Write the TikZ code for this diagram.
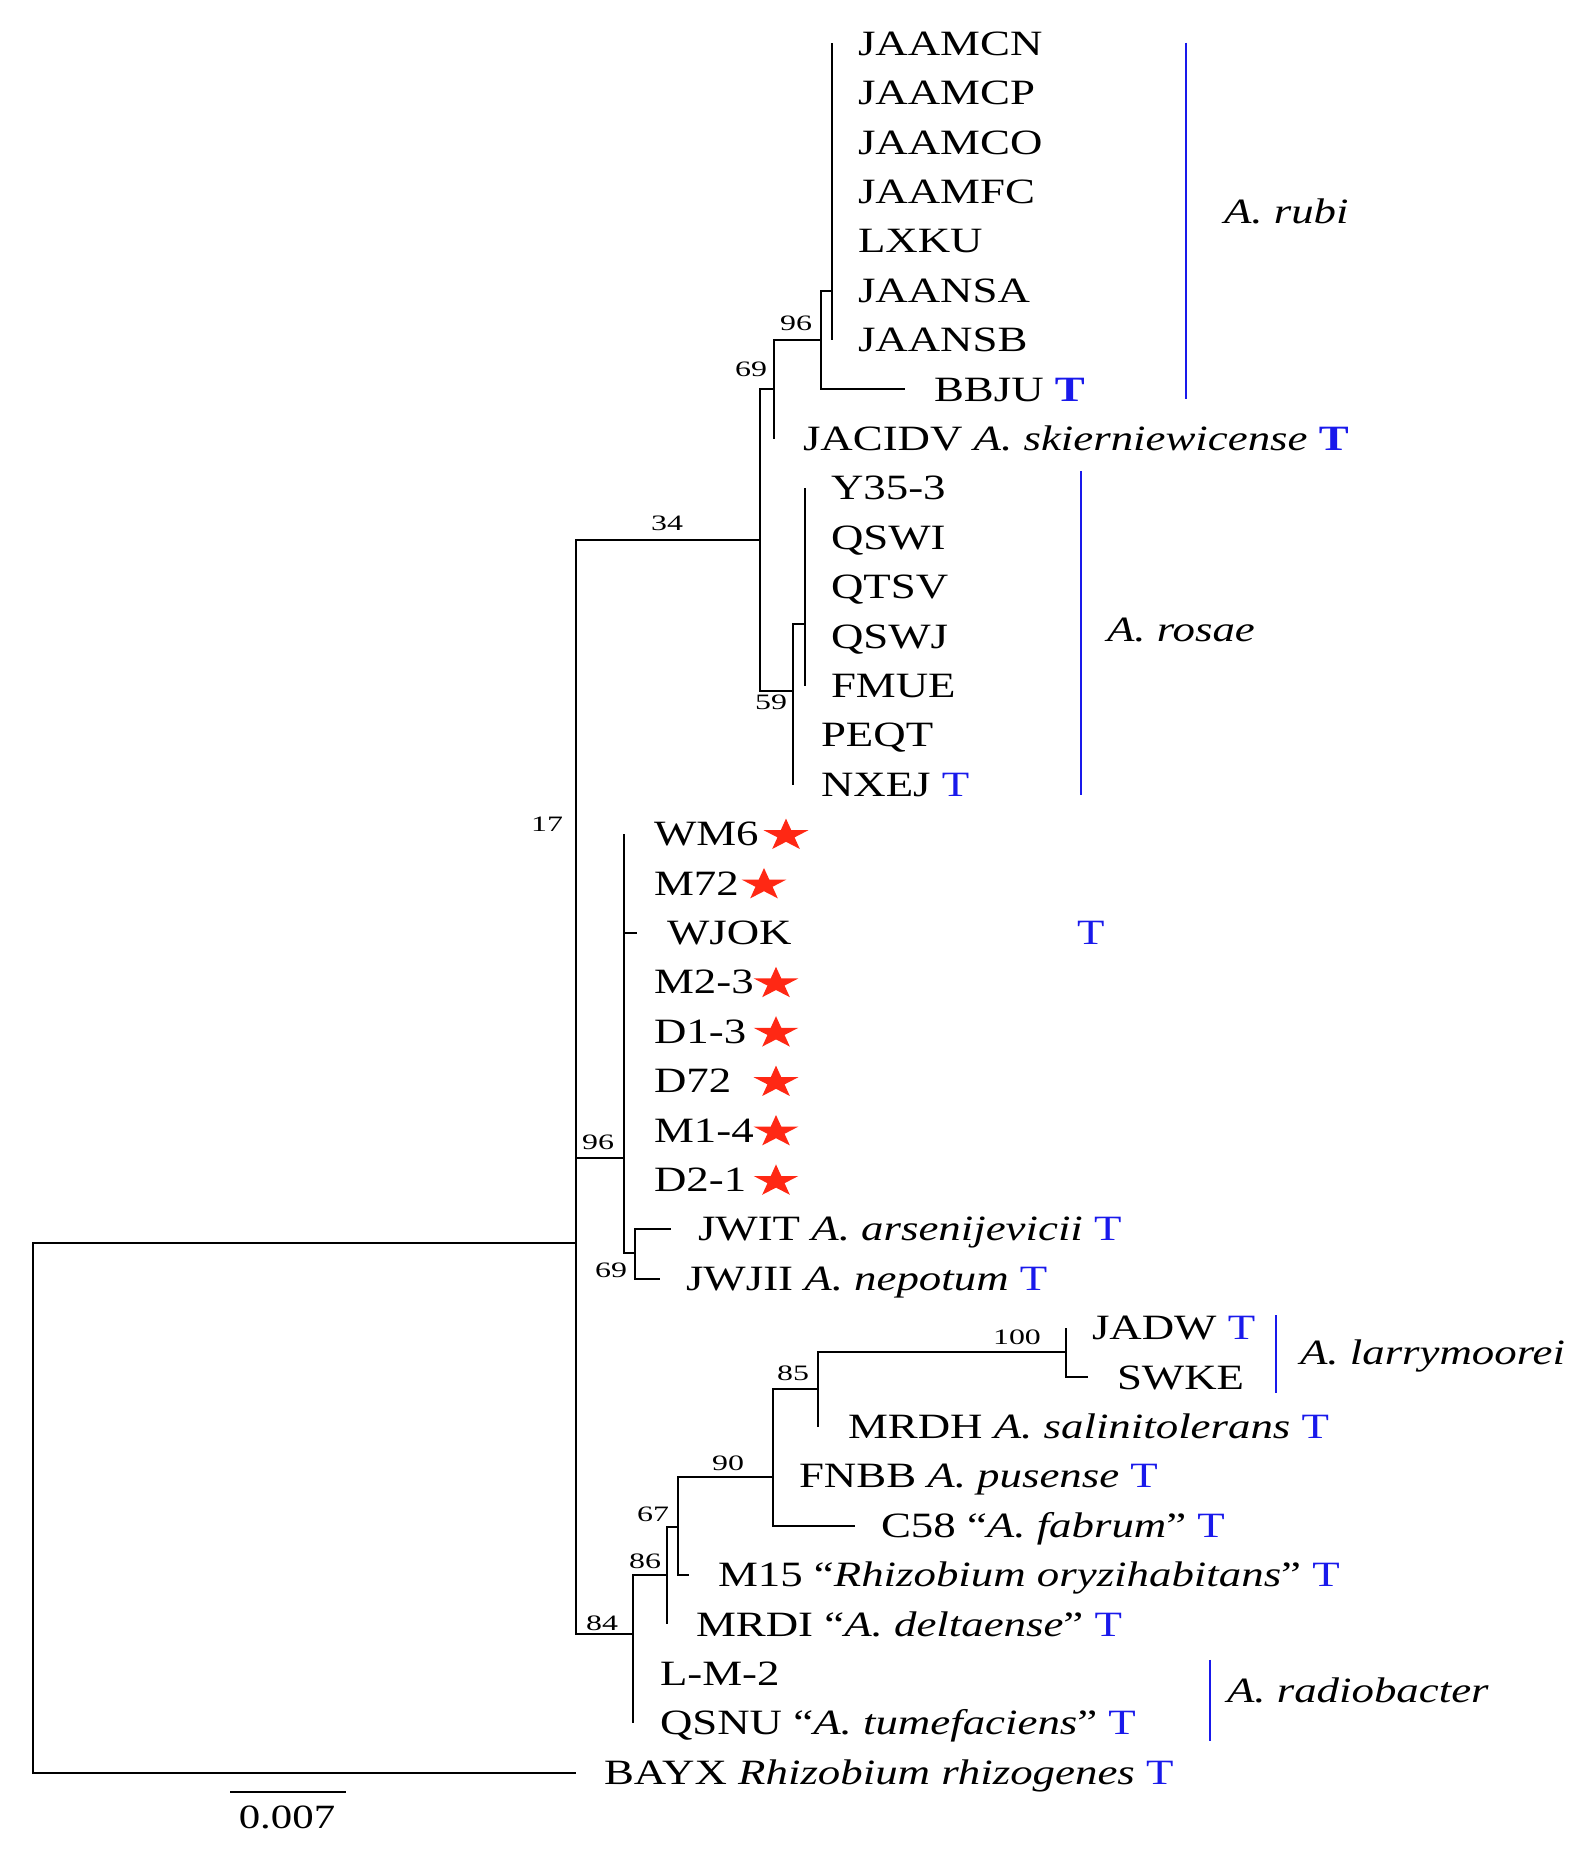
\documentclass[tikz,border=0pt]{standalone}
\usepackage{fontspec}
\setmainfont{Liberation Serif}[FakeStretch=1.26]
\newfontfamily\bootfamily{Liberation Serif}[FakeStretch=1.45]
\usepackage{tikz}
\definecolor{typeblue}{RGB}{25,25,235}
\definecolor{starred}{RGB}{255,40,20}
\newcommand{\ty}{\textcolor{typeblue}{T}}
\newcommand{\tyb}{\textcolor{typeblue}{\bfseries T}}
\newcommand{\leaffont}{\fontsize{35.6pt}{40pt}\selectfont}
\newcommand{\bootfont}{\bootfamily\fontsize{22pt}{26pt}\selectfont}
\tikzset{redstar/.pic={
  \fill[starred,xscale=1.4,scale=1.12] (0pt,15pt) -- (3.37pt,4.64pt) -- (14.27pt,4.64pt) -- (5.45pt,-1.77pt)
    -- (8.82pt,-12.14pt) -- (0pt,-5.73pt) -- (-8.82pt,-12.14pt) -- (-5.45pt,-1.77pt)
    -- (-14.27pt,4.64pt) -- (-3.37pt,4.64pt) -- cycle;}}

\begin{document}
\begin{tikzpicture}[x=1pt,y=-49.4pt,line width=2pt,
  elbow/.style={to path={|- (\tikztotarget)}},
  leaf/.style={anchor=base west,inner sep=0pt,yshift=-11.7pt,font=\leaffont},
  boot/.style={anchor=base,inner sep=0pt,yshift=-7.5pt,font=\bootfont},
  group/.style={draw=typeblue}]
  \useasboundingbox (0,-0.8806) rectangle (1590,36.690);

  % inner nodes of the tree
  \coordinate (r) at (33,30);
  \coordinate (n17) at (576,24.28);
  \coordinate (n34) at (760,10.05);
  \coordinate (n69) at (774,7);
  \coordinate (n96r) at (821,6);
  \coordinate (nrubi) at (832,5);
  \coordinate (n59) at (793,13.11);
  \coordinate (nrosae) at (805,11.75);
  \coordinate (n96m) at (624,22.56);
  \coordinate (n69m) at (635,24.48);
  \coordinate (n84) at (633,32.19);
  \coordinate (n86) at (667,31.0);
  \coordinate (n67) at (678,30.03);
  \coordinate (n90) at (773,29.02);
  \coordinate (n85) at (818,27.24);
  \coordinate (n100) at (1066,26.49);

  % tips
  \coordinate (tJAAMCN) at (832,0);
  \coordinate (tJAANSB) at (832,6);
  \coordinate (tBBJU) at (905,7);
  \coordinate (tJACIDV) at (774,8);
  \coordinate (tY35) at (805,9);
  \coordinate (tFMUE) at (805,13);
  \coordinate (tNXEJ) at (793,15);
  \coordinate (tWM6) at (624,16);
  \coordinate (tWJOK) at (637,18);
  \coordinate (tJWIT) at (671,24);
  \coordinate (tJWJII) at (660,25);
  \coordinate (tJADW) at (1066,26);
  \coordinate (tSWKE) at (1088,27);
  \coordinate (tMRDH) at (818,28);
  \coordinate (tC58) at (855,30);
  \coordinate (tM15) at (689,31);
  \coordinate (tMRDI) at (667,32);
  \coordinate (tQSNU) at (633,34);
  \coordinate (tBAYX) at (576,35);

  \path
    (r) edge[elbow] (n17) edge[elbow] (tBAYX)
    (n17) edge[elbow] (n34) edge[elbow] (n96m) edge[elbow] (n84)
    (n34) edge[elbow] (n69) edge[elbow] (n59)
    (n69) edge[elbow] (n96r) edge[elbow] (tJACIDV)
    (n96r) edge[elbow] (nrubi) edge[elbow] (tBBJU)
    (nrubi) edge[elbow] (tJAAMCN) edge[elbow] (tJAANSB)
    (n59) edge[elbow] (nrosae) edge[elbow] (tNXEJ)
    (nrosae) edge[elbow] (tY35) edge[elbow] (tFMUE)
    (n96m) edge[elbow] (tWM6) edge[elbow] (tWJOK) edge[elbow] (n69m)
    (n69m) edge[elbow] (tJWIT) edge[elbow] (tJWJII)
    (n84) edge[elbow] (n86) edge[elbow] (tQSNU)
    (n86) edge[elbow] (n67) edge[elbow] (tMRDI)
    (n67) edge[elbow] (n90) edge[elbow] (tM15)
    (n90) edge[elbow] (n85) edge[elbow] (tC58)
    (n85) edge[elbow] (n100) edge[elbow] (tMRDH)
    (n100) edge[elbow] (tJADW) edge[elbow] (tSWKE);

  % bootstrap values
  \node[boot] (b17) at (547,15.8) {17};
  \node[boot] (b34) at (667,9.70) {34};
  \node[boot] (b69r) at (751,6.59) {69};
  \node[boot] (b96r) at (796,5.66) {96};
  \node[boot] (b59) at (771,13.33) {59};
  \node[boot] (b96m) at (598,22.24) {96};
  \node[boot] (b69m) at (611,24.83) {69};
  \node[boot] (b84) at (602,31.97) {84};
  \node[boot] (b86) at (645,30.72) {86};
  \node[boot] (b67) at (653,29.77) {67};
  \node[boot] (b90) at (728,28.73) {90};
  \node[boot] (b85) at (793,26.91) {85};
  \node[boot] (b100) at (1017,26.18) {100};

  % leaf labels
  \node[leaf] (JAAMCN) at (857,0) {JAAMCN};
  \node[leaf] (JAAMCP) at (857,1) {JAAMCP};
  \node[leaf] (JAAMCO) at (857,2) {JAAMCO};
  \node[leaf] (JAAMFC) at (857,3) {JAAMFC};
  \node[leaf] (LXKU) at (857,4) {LXKU};
  \node[leaf] (JAANSA) at (857,5) {JAANSA};
  \node[leaf] (JAANSB) at (857,6) {JAANSB};
  \node[leaf] (BBJU) at (933,7) {BBJU \tyb};
  \node[leaf] (JACIDV) at (802,8) {JACIDV \textit{A. skierniewicense} \tyb};
  \node[leaf] (Y35) at (830,9) {Y35-3};
  \node[leaf] (QSWI) at (830,10) {QSWI};
  \node[leaf] (QTSV) at (830,11) {QTSV};
  \node[leaf] (QSWJ) at (830,12) {QSWJ};
  \node[leaf] (FMUE) at (830,13) {FMUE};
  \node[leaf] (PEQT) at (820,14) {PEQT};
  \node[leaf] (NXEJ) at (820,15) {NXEJ \ty};
  \node[leaf] (WM6) at (653,16) {WM6};
  \node[leaf] (M72) at (653,17) {M72};
  \node[leaf] (WJOK) at (666,18) {WJOK};
  \node[leaf] (WJOKt) at (1076,18) {\ty};
  \node[leaf] (M23) at (653,19) {M2-3};
  \node[leaf] (D13) at (653,20) {D1-3};
  \node[leaf] (D72) at (653,21) {D72};
  \node[leaf] (M14) at (653,22) {M1-4};
  \node[leaf] (D21) at (653,23) {D2-1};
  \node[leaf] (JWIT) at (697,24) {JWIT \textit{A. arsenijevicii} \ty};
  \node[leaf] (JWJII) at (685,25) {JWJII \textit{A. nepotum} \ty};
  \node[leaf] (JADW) at (1091,26) {JADW \ty};
  \node[leaf] (SWKE) at (1116,27) {SWKE};
  \node[leaf] (MRDH) at (847,28) {MRDH \textit{A. salinitolerans} \ty};
  \node[leaf] (FNBB) at (798,29) {FNBB \textit{A. pusense} \ty};
  \node[leaf] (C58) at (880,30) {C58 “\textit{A. fabrum}” \ty};
  \node[leaf] (M15) at (717,31) {M15 “\textit{Rhizobium oryzihabitans}” \ty};
  \node[leaf] (MRDI) at (695,32) {MRDI “\textit{A. deltaense}” \ty};
  \node[leaf] (LM2) at (659,33) {L-M-2};
  \node[leaf] (QSNU) at (659,34) {QSNU “\textit{A. tumefaciens}” \ty};
  \node[leaf] (BAYX) at (603,35) {BAYX \textit{Rhizobium rhizogenes} \ty};

  % our isolates
  \pic at (786,16.03) {redstar};
  \pic at (764,17.03) {redstar};
  \pic at (776,19.03) {redstar};
  \pic at (776,20.03) {redstar};
  \pic at (776,21.03) {redstar};
  \pic at (776,22.03) {redstar};
  \pic at (776,23.03) {redstar};

  % species bars
  \coordinate (rubitop) at (1186,-0.02);
  \coordinate (rubibot) at (1186,7.2);
  \coordinate (rosaetop) at (1081,8.65);
  \coordinate (rosaebot) at (1081,15.21);
  \coordinate (larrytop) at (1276,25.74);
  \coordinate (larrybot) at (1276,27.32);
  \coordinate (radiotop) at (1210,32.72);
  \coordinate (radiobot) at (1210,34.36);
  \draw[group] (rubitop) -- (rubibot);
  \draw[group] (rosaetop) -- (rosaebot);
  \draw[group] (larrytop) -- (larrybot);
  \draw[group] (radiotop) -- (radiobot);
  \node[leaf,font=\leaffont\itshape] (grubi) at (1223,3.41) {A. rubi};
  \node[leaf,font=\leaffont\itshape] (grosae) at (1106,11.87) {A. rosae};
  \node[leaf,font=\leaffont\itshape] (glarry) at (1299,26.51) {A. larrymoorei};
  \node[leaf,font=\leaffont\itshape] (gradio) at (1226,33.35) {A. radiobacter};

  % scale bar
  \coordinate (sb1) at (230,35.39);
  \coordinate (sb2) at (346,35.39);
  \draw (sb1) -- (sb2);
  \node[anchor=base,inner sep=0pt,yshift=-11.5pt,font=\fontsize{34pt}{38pt}\selectfont] (sblabel) at (287,35.9) {0.007};
\end{tikzpicture}
\end{document}
